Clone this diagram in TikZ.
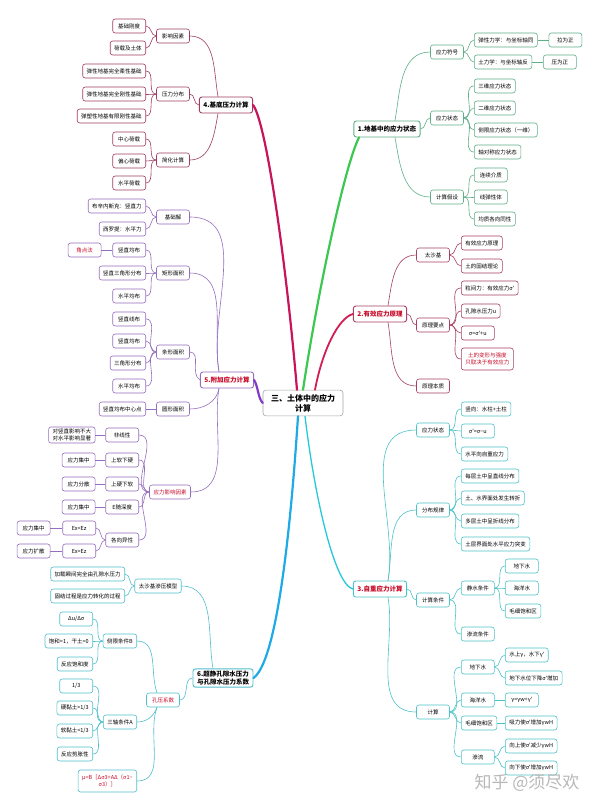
\documentclass[tikz,border=0pt]{standalone}
\usepackage{fontspec}
\setmainfont{Noto Sans CJK SC}[Ligatures=TeXOff]
\usetikzlibrary{positioning}
\definecolor{hotred}{RGB}{200,10,40}
\definecolor{c1}{RGB}{95,175,135}   % branch 1 boxes
\definecolor{c1main}{RGB}{60,200,80}
\definecolor{c2}{RGB}{165,65,100}
\definecolor{c2main}{RGB}{210,30,85}
\definecolor{c3}{RGB}{75,195,200}
\definecolor{c3main}{RGB}{40,200,220}
\definecolor{c4}{RGB}{160,60,100}
\definecolor{c4main}{RGB}{200,20,90}
\definecolor{c5}{RGB}{150,110,190}
\definecolor{c5main}{RGB}{130,60,200}
\definecolor{c6}{RGB}{80,190,205}
\definecolor{c6main}{RGB}{30,170,230}
\tikzset{
  box/.style={draw, rounded corners=2.5pt, fill=white, line width=0.6pt,
    font=\fontsize{5.5}{7}\selectfont, inner xsep=4pt, inner ysep=2pt,
    minimum height=14pt, minimum width=33pt, align=center}, % every box of the map
  head/.style={box, line width=0.9pt, font=\fontsize{6.5}{8}\selectfont\bfseries, minimum height=16pt},
  root/.style={box, draw=black!35, rounded corners=3pt,
    font=\fontsize{8}{10}\selectfont\bfseries, inner xsep=8pt, inner ysep=4pt},
  hot/.style={text=hotred}, % red texts
  b1/.style={draw=c1}, b2/.style={draw=c2}, b3/.style={draw=c3},
  b4/.style={draw=c4}, b5/.style={draw=c5}, b6/.style={draw=c6},
  e1/.style={c1, line width=0.6pt}, e2/.style={c2, line width=0.6pt},
  e3/.style={c3, line width=0.6pt}, e4/.style={c4, line width=0.6pt},
  e5/.style={c5, line width=0.6pt}, e6/.style={c6, line width=0.6pt},
  m/.style={line width=2.2pt, line cap=round}, % main branches
}
\begin{document}
\begin{tikzpicture}[x=1pt, y=-1pt]
  \fill[white] (0,0) rectangle (600,809);
  \useasboundingbox (0,0) rectangle (600,809);

  \node[root] (root) at (303,403) {三、土体中的应力\\计算};

  % 4. 基底压力计算
  \node[head, b4] (h4) at (226,105) {4.基底压力计算};
  \node[box, b4] (s41) at (173,36) {影响因素};
  \node[box, b4, anchor=east] (s41a) at (146,26) {基础刚度};
  \node[box, b4, anchor=east] (s41b) at (146,48) {荷载及土体};
  \node[box, b4] (s42) at (173,94) {压力分布};
  \node[box, b4, anchor=east] (s42a) at (146,71) {弹性地基完全柔性基础};
  \node[box, b4, anchor=east] (s42b) at (146,94) {弹性地基完全刚性基础};
  \node[box, b4, anchor=east] (s42c) at (146,116) {弹塑性地基有限刚性基础};
  \node[box, b4] (s43) at (173,160) {简化计算};
  \node[box, b4, anchor=east] (s43a) at (146,139) {中心荷载};
  \node[box, b4, anchor=east] (s43b) at (146,161) {偏心荷载};
  \node[box, b4, anchor=east] (s43c) at (146,183) {水平荷载};
  \draw[e4] (s41.east) to[out=0,in=100] ([xshift=-8pt]h4.north);
  \draw[e4] (s42.east) to[out=0,in=180] (h4.west);
  \draw[e4] (s43.east) to[out=0,in=-100] ([xshift=-8pt]h4.south);
  \foreach \k in {a,b} \draw[e4] (s41.west) to[out=180,in=0] (s41\k.east);
  \foreach \k in {a,b,c} \draw[e4] (s42.west) to[out=180,in=0] (s42\k.east);
  \foreach \k in {a,b,c} \draw[e4] (s43.west) to[out=180,in=0] (s43\k.east);

  % 5. 附加应力计算
  \node[head, b5, hot] (h5) at (227,380) {5.附加应力计算};
  \node[box, b5] (s51) at (173,217) {基础解};
  \node[box, b5, anchor=east] (s51a) at (146,206) {布辛内斯克：竖直力};
  \node[box, b5, anchor=east] (s51b) at (146,229) {西罗提：水平力};
  \node[box, b5] (s52) at (173,273) {矩形面积};
  \node[box, b5, anchor=east] (s52a) at (146,250) {竖直均布};
  \node[box, b5, hot, left=11pt of s52a] (s52x) {角点法};
  \node[box, b5, anchor=east] (s52b) at (146,273) {竖直三角形分布};
  \node[box, b5, anchor=east] (s52c) at (146,296) {水平均布};
  \node[box, b5] (s53) at (173,352) {条形面积};
  \node[box, b5, anchor=east] (s53a) at (146,319) {竖直线布};
  \node[box, b5, anchor=east] (s53b) at (146,341) {竖直均布};
  \node[box, b5, anchor=east] (s53c) at (146,363) {三角形分布};
  \node[box, b5, anchor=east] (s53d) at (146,386) {水平均布};
  \node[box, b5] (s54) at (173,409) {圆形面积};
  \node[box, b5, anchor=east] (s54a) at (146,409) {竖直均布中心点};
  \node[box, b5, hot, minimum width=40pt] (s55) at (170,492) {应力影响因素};
  \node[box, b5, anchor=east] (s55a) at (139,435) {非线性};
  \node[box, b5, left=10pt of s55a] (s55ax) {对竖直影响不大\\对水平影响显著};
  \node[box, b5, anchor=east] (s55b) at (139,460) {上软下硬};
  \node[box, b5, left=10pt of s55b] (s55bx) {应力集中};
  \node[box, b5, anchor=east] (s55c) at (139,484) {上硬下软};
  \node[box, b5, left=10pt of s55c] (s55cx) {应力分散};
  \node[box, b5, anchor=east] (s55d) at (139,507) {E随深度};
  \node[box, b5, left=10pt of s55d] (s55dx) {应力集中};
  \node[box, b5, anchor=east] (s55e) at (139,540) {各向异性};
  \node[box, b5, anchor=east] (s55ea) at (96,528) {Ex<Ez};
  \node[box, b5, left=12pt of s55ea] (s55eax) {应力集中};
  \node[box, b5, anchor=east] (s55eb) at (96,551) {Ex>Ez};
  \node[box, b5, left=12pt of s55eb] (s55ebx) {应力扩散};
  \draw[m, c5main] (root.west) .. controls (258,398) and (258,386) .. (h5.east);
  \foreach \s in {s51,s52} \draw[e5] (\s.east) to[out=0,in=100] ([xshift=-8pt]h5.north);
  \draw[e5] (s53.east) to[out=0,in=150] (h5.west);
  \foreach \s in {s54,s55} \draw[e5] (\s.east) to[out=0,in=-100] ([xshift=-8pt]h5.south);
  \foreach \k in {a,b} \draw[e5] (s51.west) to[out=180,in=0] (s51\k.east);
  \foreach \k in {a,b,c} \draw[e5] (s52.west) to[out=180,in=0] (s52\k.east);
  \foreach \k in {a,b,c,d} \draw[e5] (s53.west) to[out=180,in=0] (s53\k.east);
  \draw[e5] (s54.west) -- (s54a.east);
  \foreach \k in {a,b,c,d,e} \draw[e5] (s55.west) to[out=180,in=0] (s55\k.east);
  \foreach \k in {a,b,c,d} \draw[e5] (s55\k.west) -- (s55\k x.east);
  \draw[e5] (s52a.west) -- (s52x.east);
  \foreach \k in {a,b} {
    \draw[e5] (s55e.west) to[out=180,in=0] (s55e\k.east);
    \draw[e5] (s55e\k.west) -- (s55e\k x.east);
  }

  % 6. 超静孔隙水压力与孔隙水压力系数
  \node[head, b6] (h6) at (223,678) {6.超静孔隙水压力\\与孔隙水压力系数};
  \node[box, b6] (s61) at (158,586) {太沙基渗压模型};
  \node[box, b6, anchor=east] (s61a) at (125,574) {加载瞬间完全由孔隙水压力};
  \node[box, b6, anchor=east] (s61b) at (125,596) {固结过程是应力转化的过程};
  \node[box, b6, hot] (s62) at (163,700) {孔压系数};
  \node[box, b6, anchor=east] (s621) at (137,641) {侧限条件B};
  \node[box, b6, anchor=east] (s621a) at (93,619) {Δu/Δσ};
  \node[box, b6, anchor=east] (s621b) at (93,641) {饱和=1，干土=0};
  \node[box, b6, anchor=east] (s621c) at (93,664) {反应饱和度};
  \node[box, b6, anchor=east] (s622) at (137,722) {三轴条件A};
  \node[box, b6, anchor=east] (s622a) at (93,686) {1/3};
  \node[box, b6, anchor=east] (s622b) at (93,708) {硬黏土>1/3};
  \node[box, b6, anchor=east] (s622c) at (93,731) {软黏土<1/3};
  \node[box, b6, anchor=east] (s622d) at (93,754) {反应剪胀性};
  \node[box, b6, hot, anchor=east, minimum height=22pt] (s62f) at (137,781) {μ=B［Δσ3+AΔ（σ1−\\σ3）］};
  \draw[m, c6main] ([xshift=-5pt]root.south) .. controls (290,540) and (276,662) .. (h6.east);
  \draw[e6] (s61.east) to[out=0,in=100] ([xshift=-10pt]h6.north);
  \draw[e6] (s62.east) to[out=0,in=180] (h6.west);
  \draw[e6] (s621.east) to[out=0,in=110] ([xshift=-6pt]s62.north);
  \foreach \s in {s622,s62f} \draw[e6] (\s.east) to[out=0,in=-110] ([xshift=-6pt]s62.south);
  \foreach \k in {a,b} \draw[e6] (s61.west) to[out=180,in=0] (s61\k.east);
  \foreach \k in {a,b,c} \draw[e6] (s621.west) to[out=180,in=0] (s621\k.east);
  \foreach \k in {a,b,c,d} \draw[e6] (s622.west) to[out=180,in=0] (s622\k.east);

  % 1. 地基中的应力状态
  \node[head, b1] (h1) at (387,129) {1.地基中的应力状态};
  \node[box, b1] (s11) at (447,52) {应力符号};
  \node[box, b1, anchor=west] (s11a) at (474,40) {弹性力学：与坐标轴同};
  \node[box, b1, right=11pt of s11a] (s11ax) {拉为正};
  \node[box, b1, anchor=west] (s11b) at (474,62) {土力学：与坐标轴反};
  \node[box, b1, right=11pt of s11b] (s11bx) {压为正};
  \node[box, b1] (s12) at (447,118) {应力状态};
  \node[box, b1, anchor=west] (s12a) at (474,86) {三维应力状态};
  \node[box, b1, anchor=west] (s12b) at (474,108) {二维应力状态};
  \node[box, b1, anchor=west] (s12c) at (474,130) {侧限应力状态（一维）};
  \node[box, b1, anchor=west] (s12d) at (474,152) {轴对称应力状态};
  \node[box, b1] (s13) at (447,197) {计算假设};
  \node[box, b1, anchor=west] (s13a) at (474,175) {连续介质};
  \node[box, b1, anchor=west] (s13b) at (474,197) {线弹性体};
  \node[box, b1, anchor=west] (s13c) at (474,219) {均质各向同性};
  \draw[m, c1main] (root.north) .. controls (318,290) and (345,165) .. ([xshift=-28pt]h1.south);
  \draw[e1] ([xshift=8pt]h1.north) to[out=80,in=180] (s11.west);
  \draw[e1] (h1.east) to[out=0,in=180] (s12.west);
  \draw[e1] ([xshift=8pt]h1.south) to[out=-80,in=180] (s13.west);
  \foreach \k in {a,b} {
    \draw[e1] (s11.east) to[out=0,in=180] (s11\k.west);
    \draw[e1] (s11\k.east) -- (s11\k x.west);
  }
  \foreach \k in {a,b,c,d} \draw[e1] (s12.east) to[out=0,in=180] (s12\k.west);
  \foreach \k in {a,b,c} \draw[e1] (s13.east) to[out=0,in=180] (s13\k.west);

  % 4. main branch (drawn here to lie over branch 1)
  \draw[m, c4main] ([xshift=-6pt]root.north) .. controls (286,260) and (266,122) .. (h4.east);

  % 2. 有效应力原理
  \node[head, b2, hot] (h2) at (380,314) {2.有效应力原理};
  \node[box, b2] (s21) at (433,255) {太沙基};
  \node[box, b2, anchor=west] (s21a) at (461,243) {有效应力原理};
  \node[box, b2, anchor=west] (s21b) at (461,266) {土的固结理论};
  \node[box, b2] (s22) at (433,325) {原理要点};
  \node[box, b2, anchor=west] (s22a) at (461,288) {粒间力：有效应力σ'};
  \node[box, b2, anchor=west] (s22b) at (461,311) {孔隙水压力u};
  \node[box, b2, anchor=west] (s22c) at (461,333) {σ=σ'+u};
  \node[box, b2, hot, anchor=west, minimum height=22pt] (s22d) at (461,359) {土的变形与强度\\只取决于有效应力};
  \node[box, b2] (s23) at (433,386) {原理本质};
  \draw[m, c2main, line width=1.8pt] ([xshift=12pt]root.north) .. controls (322,352) and (338,318) .. (h2.west);
  \draw[e2] ([xshift=8pt]h2.north) to[out=80,in=180] (s21.west);
  \draw[e2] (h2.east) to[out=0,in=180] (s22.west);
  \draw[e2] ([xshift=8pt]h2.south) to[out=-80,in=180] (s23.west);
  \foreach \k in {a,b} \draw[e2] (s21.east) to[out=0,in=180] (s21\k.west);
  \foreach \k in {a,b,c,d} \draw[e2] (s22.east) to[out=0,in=180] (s22\k.west);

  % 3. 自重应力计算
  \node[head, b3, hot] (h3) at (380,589) {3.自重应力计算};
  \node[box, b3] (s31) at (433,430) {应力状态};
  \node[box, b3, anchor=west] (s31a) at (461,409) {竖向：水柱+土柱};
  \node[box, b3, anchor=west] (s31b) at (461,431) {σ'=σ−u};
  \node[box, b3, anchor=west] (s31c) at (461,454) {水平向自重应力};
  \node[box, b3] (s32) at (433,510) {分布规律};
  \node[box, b3, anchor=west] (s32a) at (461,476) {每层土中呈直线分布};
  \node[box, b3, anchor=west] (s32b) at (461,498) {土、水界面处发生转折};
  \node[box, b3, anchor=west] (s32c) at (461,521) {多层土中呈折线分布};
  \node[box, b3, anchor=west] (s32d) at (461,544) {土层界面处水平应力突变};
  \node[box, b3] (s33) at (433,600) {计算条件};
  \node[box, b3, anchor=west] (s33a) at (461,588) {静水条件};
  \node[box, b3, anchor=west] (s33aa) at (505,566) {地下水};
  \node[box, b3, anchor=west] (s33ab) at (505,588) {海洋水};
  \node[box, b3, anchor=west] (s33ac) at (505,611) {毛细饱和区};
  \node[box, b3, anchor=west] (s33b) at (461,634) {渗流条件};
  \node[box, b3] (s34) at (433,712) {计算};
  \node[box, b3, anchor=west] (s34a) at (461,667) {地下水};
  \node[box, b3, anchor=west] (s34aa) at (505,655) {水上γ，水下γ'};
  \node[box, b3, anchor=west] (s34ab) at (505,678) {地下水位下降σ'增加};
  \node[box, b3, anchor=west] (s34b) at (461,700) {海洋水};
  \node[box, b3, anchor=west] (s34ba) at (505,700) {γ=γw+γ'};
  \node[box, b3, anchor=west] (s34c) at (461,723) {毛细饱和区};
  \node[box, b3, anchor=west] (s34ca) at (505,723) {吸力使σ'增加γwH};
  \node[box, b3, anchor=west] (s34d) at (461,757) {渗流};
  \node[box, b3, anchor=west] (s34da) at (505,746) {向上使σ'减少γwH};
  \node[box, b3, anchor=west] (s34db) at (505,768) {向下使σ'增加γwH};
  \draw[c3main, line width=1.3pt] ([xshift=2pt]root.south) .. controls (315,500) and (335,585) .. (h3.west);
  \foreach \s in {s31,s32} \draw[e3] ([xshift=8pt]h3.north) to[out=80,in=180] (\s.west);
  \draw[e3] (h3.east) to[out=0,in=180] (s33.west);
  \draw[e3] ([xshift=8pt]h3.south) to[out=-80,in=180] (s34.west);
  \foreach \k in {a,b,c} \draw[e3] (s31.east) to[out=0,in=180] (s31\k.west);
  \foreach \k in {a,b,c,d} \draw[e3] (s32.east) to[out=0,in=180] (s32\k.west);
  \foreach \k in {a,b} \draw[e3] (s33.east) to[out=0,in=180] (s33\k.west);
  \foreach \k in {a,b,c} \draw[e3] (s33a.east) to[out=0,in=180] (s33a\k.west);
  \foreach \k in {a,b,c,d} \draw[e3] (s34.east) to[out=0,in=180] (s34\k.west);
  \foreach \k in {a,b} {
    \draw[e3] (s34a.east) to[out=0,in=180] (s34a\k.west);
    \draw[e3] (s34d.east) to[out=0,in=180] (s34d\k.west);
  }
  \draw[e3] (s34b.east) -- (s34ba.west);
  \draw[e3] (s34c.east) -- (s34ca.west);

  \node[text=black!28, font=\fontsize{17}{20}\selectfont] (mark) at (527,783) {知乎 @须尽欢};
\end{tikzpicture}
\end{document}
